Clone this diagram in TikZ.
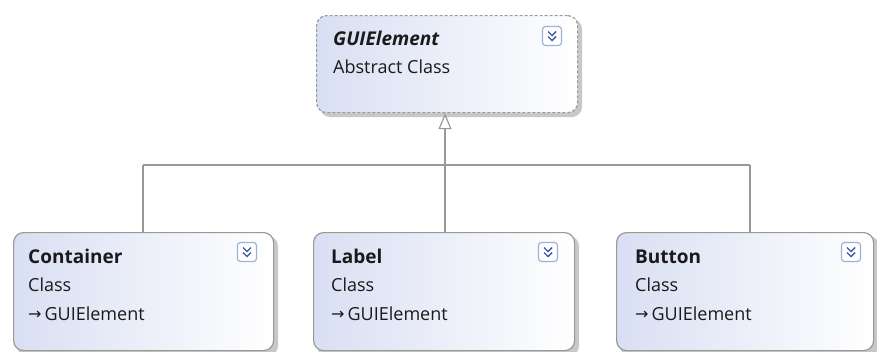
\documentclass[tikz,border=0pt]{standalone}
\usepackage{fontspec}
\setmainfont{Open Sans}
\newfontfamily\symfont{DejaVu Sans}
\usetikzlibrary{arrows.meta,positioning}
\definecolor{boxblue}{HTML}{D9DFF3}
\definecolor{edgegray}{HTML}{9A9A94}
\definecolor{shadowgray}{HTML}{C8C8C8}
\definecolor{txt}{HTML}{1A1A1A}
\definecolor{iconblue}{HTML}{3F57A6}
\definecolor{iconedge}{HTML}{9DB0D6}
\tikzset{
  classbox/.style={rounded corners=10pt, draw=edgegray, line width=1.2pt,
    left color=boxblue, right color=white, minimum width=260pt, minimum height=118pt,
    inner sep=0pt},
  absbox/.style={classbox, dashed, dash pattern=on 3pt off 2pt, minimum height=97pt},
  conn/.style={draw=edgegray, line width=1.5pt},
  inherit/.style={conn, -{Triangle[open, length=16pt, width=13pt, line width=1.2pt]}},
  title/.style={font=\fontsize{19}{20}\selectfont\bfseries, text=txt, anchor=base west, inner sep=0pt},
  sub/.style={font=\fontsize{18}{20}\selectfont, text=txt, anchor=base west, inner sep=0pt},
  icon/.style={draw=iconedge, fill=white, rounded corners=3pt, minimum size=19pt, inner sep=0pt, line width=1.2pt}
}
\newcommand{\chev}[1]{%
  \node[icon] (#1) {};
  \draw[iconblue, line width=1.4pt] ([xshift=-4pt,yshift=-0.5pt]#1.center) -- ([yshift=-4.5pt]#1.center) -- ([xshift=4pt,yshift=-0.5pt]#1.center);
  \draw[iconblue, line width=1.4pt] ([xshift=-4pt,yshift=4.5pt]#1.center) -- ([yshift=0.5pt]#1.center) -- ([xshift=4pt,yshift=4.5pt]#1.center);
}
\newcommand{\inh}{{\symfont\fontsize{16}{16}\selectfont\raisebox{0.5pt}{→}}\kern3pt GUIElement}
\begin{document}
\begin{tikzpicture}[x=1pt,y=-1pt]
\useasboundingbox (0,0) rectangle (877,351);
% shadows
\fill[shadowgray, rounded corners=10pt] (320,19) rectangle (582,117);
\fill[shadowgray, rounded corners=10pt] (17,236) rectangle (278,356);
\fill[shadowgray, rounded corners=10pt] (317,236) rectangle (579,356);
\fill[shadowgray, rounded corners=10pt] (620,236) rectangle (879,356);
% boxes
\node[absbox, minimum width=261pt, anchor=north west] (gui) at (316,15) {};
\node[classbox, minimum width=260pt, anchor=north west] (cont) at (13,232) {};
\node[classbox, minimum width=261pt, anchor=north west] (lab) at (313,232) {};
\node[classbox, minimum width=257pt, anchor=north west] (btn) at (616,232) {};
% texts
\node[title, font=\fontsize{19}{20}\selectfont\bfseries\itshape] (t0) at (333,45) {GUIElement};
\node[sub] (s0) at (333,73) {Abstract Class};
\node[title] (t1) at (28,263) {Container};
\node[sub] (s1) at (28,291) {Class};
\node[sub] (b1) at (28,320) {\inh};
\node[title] (t2) at (331,263) {Label};
\node[sub] (s2) at (331,291) {Class};
\node[sub] (b2) at (331,320) {\inh};
\node[title] (t3) at (635,263) {Button};
\node[sub] (s3) at (635,291) {Class};
\node[sub] (b3) at (635,320) {\inh};
% icons
\begin{scope}[shift={(552,36)}]\chev{i0}\end{scope}
\begin{scope}[shift={(247,252)}]\chev{i1}\end{scope}
\begin{scope}[shift={(548,252)}]\chev{i2}\end{scope}
\begin{scope}[shift={(851,252)}]\chev{i3}\end{scope}
% connectors
\coordinate (j) at (445,165);
\coordinate (jl) at (143,165);
\coordinate (jr) at (750,165);
\draw[conn] (jl) -- (jr);
\draw[conn] (jl) -- (jl |- cont.north);
\draw[conn] (jr) -- (jr |- btn.north);
\draw[conn] (j) -- (j |- lab.north);
\draw[inherit] (j) -- (j |- gui.south);
\end{tikzpicture}
\end{document}
